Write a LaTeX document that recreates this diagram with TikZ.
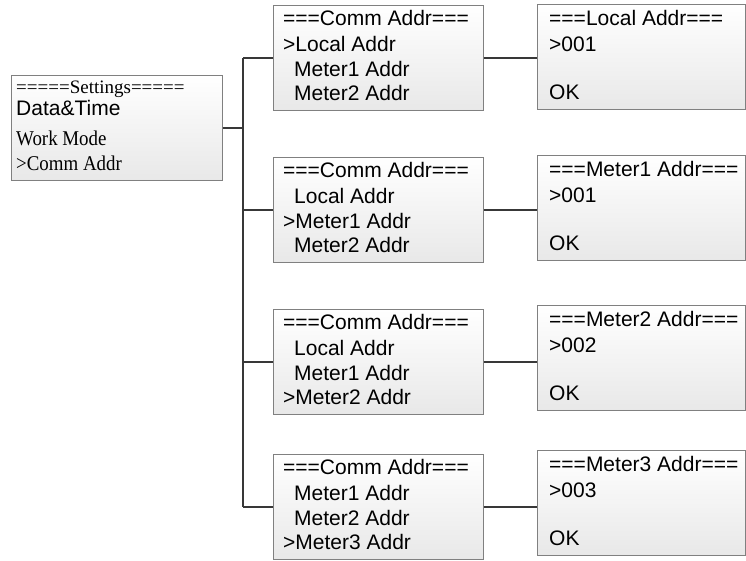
\documentclass[tikz,border=0pt]{standalone}
\usepackage{fontspec}
\usetikzlibrary{calc}
\newfontfamily\arfont{Liberation Sans}
\newfontfamily\sefont{Liberation Serif}
\newfontfamily\senarrow[FakeStretch=0.9]{Liberation Serif}
\begin{document}
\begin{tikzpicture}[x=1pt,y=-1pt,
  lcd/.style={rectangle, draw=black!50, line width=0.9pt, top color=white, bottom color=black!9,
              inner sep=0pt, anchor=north west},
  midbox/.style={lcd, minimum width=210pt, minimum height=105pt},
  rbox/.style={lcd, minimum width=208pt, minimum height=105pt},
  txt/.style={anchor=base west, inner sep=0pt, font=\arfont\fontsize{21}{25}\selectfont},
  stxt/.style={anchor=base west, inner sep=0pt, font=\senarrow\fontsize{21}{25}\selectfont},
  ttxt/.style={anchor=base west, inner sep=0pt, font=\sefont\fontsize{19}{23}\selectfont},
  link/.style={draw=black!78, line width=1.7pt}]
\useasboundingbox (0,0) rectangle (746,560);

% settings box
\node[lcd, minimum width=211pt, minimum height=105pt] (set) at (11,75) {};
\node[ttxt] (s1) at ($(set.north west)+(5,18)$) {=====Settings=====};
\node[txt] (s2) at ($(set.north west)+(5,40)$) {Data\&Time};
\node[stxt] (s3) at ($(set.north west)+(5,70)$) {Work Mode};
\node[stxt] (s4) at ($(set.north west)+(5,95)$) {>Comm Addr};

% middle boxes
\node[midbox] (m1) at (273,5) {};
\node[midbox] (m2) at (273,157) {};
\node[midbox] (m3) at (273,309) {};
\node[midbox] (m4) at (273,454) {};

% right boxes
\node[rbox] (r1) at (537,4) {};
\node[rbox] (r2) at (537,155) {};
\node[rbox] (r3) at (537,305) {};
\node[rbox] (r4) at (537,450) {};

% middle texts
\node[txt] (m1a) at ($(m1.north west)+(10,20)$) {===Comm Addr===};
\node[txt] (m1b) at ($(m1.north west)+(10,46)$) {>Local Addr};
\node[txt] (m1c) at ($(m1.north west)+(21,71)$) {Meter1 Addr};
\node[txt] (m1d) at ($(m1.north west)+(21,95)$) {Meter2 Addr};

\node[txt] (m2a) at ($(m2.north west)+(10,20)$) {===Comm Addr===};
\node[txt] (m2b) at ($(m2.north west)+(21,46)$) {Local Addr};
\node[txt] (m2c) at ($(m2.north west)+(10,71)$) {>Meter1 Addr};
\node[txt] (m2d) at ($(m2.north west)+(21,95)$) {Meter2 Addr};

\node[txt] (m3a) at ($(m3.north west)+(10,20)$) {===Comm Addr===};
\node[txt] (m3b) at ($(m3.north west)+(21,46)$) {Local Addr};
\node[txt] (m3c) at ($(m3.north west)+(21,71)$) {Meter1 Addr};
\node[txt] (m3d) at ($(m3.north west)+(10,95)$) {>Meter2 Addr};

\node[txt] (m4a) at ($(m4.north west)+(10,20)$) {===Comm Addr===};
\node[txt] (m4b) at ($(m4.north west)+(21,46)$) {Meter1 Addr};
\node[txt] (m4c) at ($(m4.north west)+(21,71)$) {Meter2 Addr};
\node[txt] (m4d) at ($(m4.north west)+(10,95)$) {>Meter3 Addr};

% right texts
\node[txt] (r1a) at ($(r1.north west)+(12,21)$) {===Local Addr===};
\node[txt] (r1b) at ($(r1.north west)+(12,47)$) {>001};
\node[txt] (r1c) at ($(r1.north west)+(12,95)$) {OK};

\node[txt] (r2a) at ($(r2.north west)+(12,21)$) {===Meter1 Addr===};
\node[txt] (r2b) at ($(r2.north west)+(12,47)$) {>001};
\node[txt] (r2c) at ($(r2.north west)+(12,95)$) {OK};

\node[txt] (r3a) at ($(r3.north west)+(12,21)$) {===Meter2 Addr===};
\node[txt] (r3b) at ($(r3.north west)+(12,47)$) {>002};
\node[txt] (r3c) at ($(r3.north west)+(12,95)$) {OK};

\node[txt] (r4a) at ($(r4.north west)+(12,21)$) {===Meter3 Addr===};
\node[txt] (r4b) at ($(r4.north west)+(12,47)$) {>003};
\node[txt] (r4c) at ($(r4.north west)+(12,95)$) {OK};

% tree
\coordinate (tx) at (243,0);
\draw[link] (set.east) -- (set.east -| tx);
\draw[link] (m1.west -| tx) -- (m4.west -| tx);
\foreach \m in {m1,m2,m3,m4}{
  \draw[link] (\m.west -| tx) -- (\m.west);
}
\foreach \m/\r in {m1/r1,m2/r2,m3/r3,m4/r4}{
  \draw[link] (\m.east) -- (\m.east -| \r.west);
}
\end{tikzpicture}
\end{document}
